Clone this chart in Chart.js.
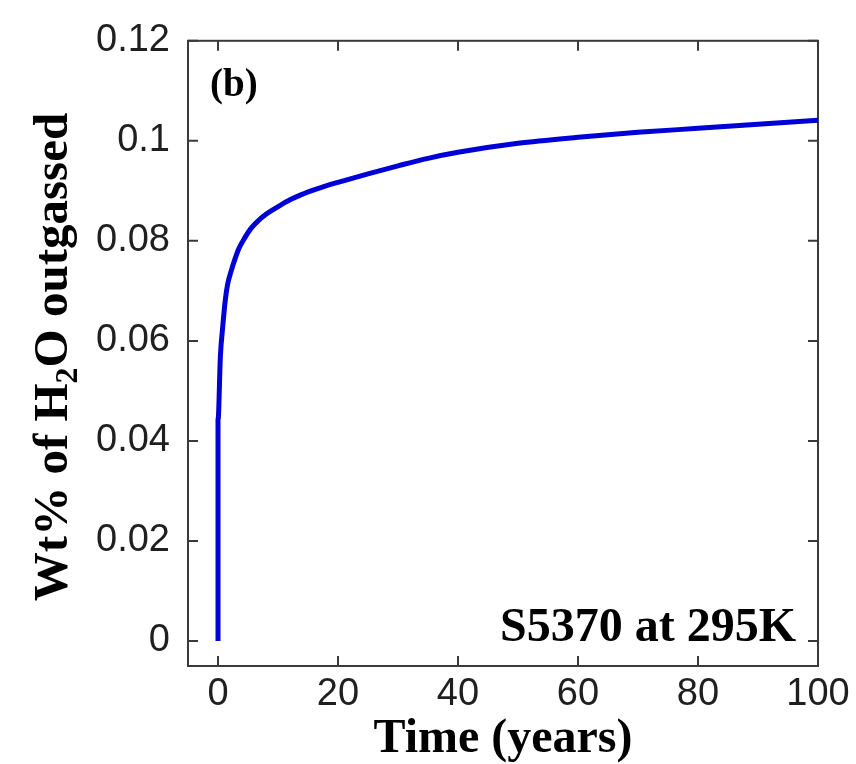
<!DOCTYPE html>
<html>
<head>
<meta charset="utf-8">
<title>Wt% of H2O outgassed vs time</title>
<script src="https://cdn.jsdelivr.net/npm/chart.js@4/dist/chart.umd.min.js"></script>
<style>
    html, body { margin: 0; padding: 0; background: #fff; }
    #wrap { width: 856px; height: 764px; }
</style>
</head>
<body>
<div id="wrap"><canvas id="outgas"></canvas></div>
<script>
// time in years, and cumulative H2O outgassed (wt%)
const timeYears = [0, 0, 0.4, 0.8, 1.2, 1.6, 2.2, 2.7, 3.5, 4.4, 5.5, 6.6, 8, 9.4, 10.5, 12, 14, 16, 18, 20, 25, 30, 35, 40, 50, 60, 70, 80, 90, 100];
const wtOutgassed = [0, 0.044, 0.057, 0.063, 0.068, 0.0713, 0.074, 0.0759, 0.0785, 0.0805, 0.0825, 0.0839, 0.0853, 0.0864, 0.0872, 0.0882, 0.0893, 0.0902, 0.091, 0.0917, 0.0934, 0.095, 0.0965, 0.0977, 0.0995, 0.1007, 0.1017, 0.1025, 0.1033, 0.1041];

const xTicks = [0, 20, 40, 60, 80, 100];
const yTicks = [0, 0.02, 0.04, 0.06, 0.08, 0.1, 0.12];

const panelLabel = "(b)";
const sampleLabel = "S5370 at 295K";

const serif = '"Liberation Serif", "Times New Roman", serif';
const sans = '"Liberation Sans", Arial, Helvetica, sans-serif';

// box with inward ticks on all four sides
const frame = {
    id: "frame",
    beforeDatasetsDraw(chart) {
        const { ctx, chartArea: a, scales } = chart;
        const len = 10;
        ctx.save();
        ctx.strokeStyle = "#3a3a3a";
        ctx.lineWidth = 2;
        ctx.strokeRect(a.left, a.top, a.right - a.left, a.bottom - a.top);
        ctx.beginPath();
        xTicks.forEach(v => {
            const x = scales.x.getPixelForValue(v);
            ctx.moveTo(x, a.bottom); ctx.lineTo(x, a.bottom - len);
            ctx.moveTo(x, a.top); ctx.lineTo(x, a.top + len);
        });
        yTicks.forEach(v => {
            const y = scales.y.getPixelForValue(v);
            ctx.moveTo(a.left, y); ctx.lineTo(a.left + len, y);
            ctx.moveTo(a.right, y); ctx.lineTo(a.right - len, y);
        });
        ctx.stroke();
        ctx.restore();
    },
    afterDraw(chart) {
        const { ctx, chartArea: a } = chart;
        ctx.save();
        ctx.fillStyle = "#000";

        ctx.font = "bold 39px " + serif;
        ctx.textAlign = "left";
        ctx.textBaseline = "alphabetic";
        ctx.fillText(panelLabel, a.left + 22, a.top + 55);

        ctx.font = "bold 48px " + serif;
        ctx.textAlign = "right";
        ctx.fillText(sampleLabel, a.right - 22, a.bottom - 25);

        ctx.font = "bold 48px " + serif;
        ctx.textAlign = "center";
        ctx.fillText("Time (years)", (a.left + a.right) / 2, 752);

        // y title with subscript 2
        const parts = [
            { t: "Wt% of H", f: "bold 49px " + serif, dy: 0 },
            { t: "2", f: "bold 32px " + serif, dy: 10 },
            { t: "O outgassed", f: "bold 49px " + serif, dy: 0 }
        ];
        let total = 0;
        parts.forEach(p => { ctx.font = p.f; p.w = ctx.measureText(p.t).width; total += p.w; });
        ctx.translate(67, 357);
        ctx.rotate(-Math.PI / 2);
        ctx.textAlign = "left";
        let x = -total / 2;
        parts.forEach(p => {
            ctx.font = p.f;
            ctx.fillText(p.t, x, p.dy);
            x += p.w;
        });
        ctx.restore();
    }
};

new Chart(document.getElementById("outgas"), {
    type: "scatter",
    data: {
        datasets: [{
            data: timeYears.map((t, i) => ({ x: t, y: wtOutgassed[i] })),
            showLine: true,
            borderColor: "#0000d8",
            borderWidth: 5,
            pointRadius: 0,
            cubicInterpolationMode: "monotone"
        }]
    },
    options: {
        responsive: true,
        maintainAspectRatio: false,
        animation: false,
        layout: { padding: { top: 37, right: 38, left: 0, bottom: 0 } },
        plugins: { legend: { display: false }, tooltip: { enabled: false } },
        scales: {
            x: {
                type: "linear",
                min: -5,
                max: 100,
                grid: { display: false, drawTicks: false },
                border: { display: false },
                afterBuildTicks: s => { s.ticks = xTicks.map(v => ({ value: v })); },
                afterFit: s => { s.height = 98; },
                ticks: {
                    padding: 6,
                    color: "#1f1f1f",
                    font: { family: sans, size: 38 },
                    callback: v => String(v)
                }
            },
            y: {
                type: "linear",
                min: -0.005,
                max: 0.12,
                grid: { display: false, drawTicks: false },
                border: { display: false },
                afterBuildTicks: s => { s.ticks = yTicks.map(v => ({ value: v })); },
                afterFit: s => { s.width = 188; },
                ticks: {
                    padding: 18,
                    color: "#1f1f1f",
                    font: { family: sans, size: 38 },
                    callback: v => String(v)
                }
            }
        }
    },
    plugins: [frame]
});
</script>
</body>
</html>
